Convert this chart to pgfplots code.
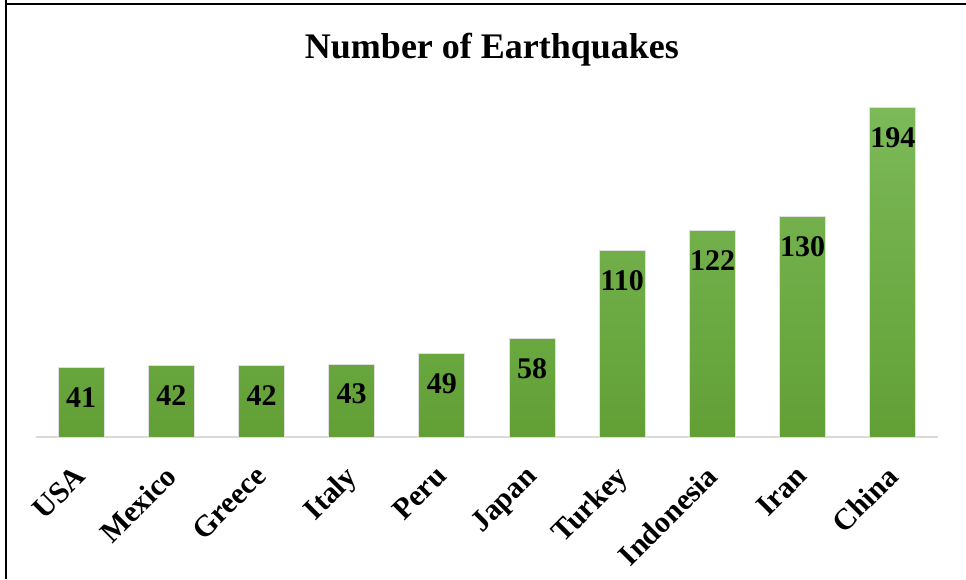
\documentclass[border=0pt]{standalone}
\usepackage{pgfplots}
\pgfplotsset{compat=1.18}
\usepackage{fontspec}
\setmainfont{Liberation Serif}
\definecolor{gtop}{RGB}{124,185,88}
\definecolor{gbot}{RGB}{98,160,54}
\definecolor{axgray}{RGB}{217,217,217}
\begin{document}
\begin{tikzpicture}[x=1pt,y=1pt]
\useasboundingbox (-36,-142) rectangle (930,437);
\draw[line width=2.5pt, black] (-30,437) -- (-30,433) -- (930,433);
\draw[line width=2.5pt, black] (-30,-142) -- (-30,434.25);
\begin{axis}[
  at={(0pt,0pt)}, anchor=south west,
  scale only axis,
  width=902pt, height=339.2pt,
  xmin=-0.5, xmax=9.5, ymin=0, ymax=200,
  ybar, bar width=46pt, bar shift=0pt,
  axis y line=none,
  axis x line*=bottom,
  x axis line style={draw=axgray, line width=2pt, -},
  xtick=data,
  xticklabels={USA,Mexico,Greece,Italy,Peru,Japan,Turkey,Indonesia,Iran,China},
  major tick length=0pt,
  xticklabel style={xshift=-8pt, yshift=-22pt, rotate=45, anchor=north east, font=\fontsize{30}{32}\selectfont\bfseries},
  nodes near coords,
  /pgf/number format/assume math mode=true,
  every node near coord/.append style={anchor=center, yshift=-30pt, font=\fontsize{30}{32}\selectfont\bfseries, text=black},
  clip=false,
]
\addplot[draw=black!12, line width=1pt, shading=axis, top color=gtop, bottom color=gbot] coordinates {
(0,41) (1,42) (2,42) (3,43) (4,49) (5,58) (6,110) (7,122) (8,130) (9,194)};
\end{axis}
\node[anchor=base, font=\fontsize{36}{38}\selectfont\bfseries] at (456,378) {Number of Earthquakes};
\end{tikzpicture}
\end{document}
